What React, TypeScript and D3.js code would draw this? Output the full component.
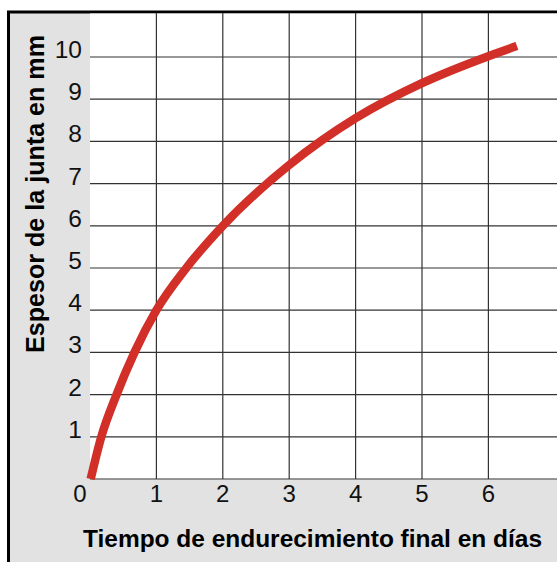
import React, { useEffect, useRef } from 'react'
import { scaleLinear, select, line, curveMonotoneX } from 'd3';

// values
const days = [0.01, 0.17, 0.4, 0.67, 1, 1.45, 2, 3, 4, 5, 6, 6.43];
const thickness = [0, 1, 2, 3, 4, 5, 6, 7.44, 8.55, 9.38, 10.02, 10.26];
const xTicks = [0, 1, 2, 3, 4, 5, 6];
const yTicks = [1, 2, 3, 4, 5, 6, 7, 8, 9, 10];
const xTitle = 'Tiempo de endurecimiento final en días';
const yTitle = 'Espesor de la junta en mm';

const App = () => {
    const chartRef = useRef<SVGSVGElement>(null);

    useEffect(() => {
        const width = 557;
        const height = 562;
        const plot = { left: 90, top: 13, bottom: 479 };

        const x = scaleLinear().domain([0, 7]).range([plot.left, plot.left + 7 * 66.4]);
        const y = scaleLinear().domain([0, 10]).range([plot.bottom, plot.bottom - 10 * 42.2]);

        const svg = select(chartRef.current);
        svg.selectAll('*').remove();
        svg.attr('width', width).attr('height', height);

        // gray frame, cut off at right and bottom
        svg.append('rect')
            .attr('x', 8.5).attr('y', 12)
            .attr('width', width + 20).attr('height', height + 20)
            .attr('fill', '#e2e2e2')
            .attr('stroke', '#000')
            .attr('stroke-width', 3);

        svg.append('rect')
            .attr('x', plot.left).attr('y', plot.top + 0.5)
            .attr('width', width - plot.left).attr('height', plot.bottom - plot.top)
            .attr('fill', '#fff');

        const grid = svg.append('g').attr('stroke', '#333').attr('stroke-width', 1.2);
        grid.selectAll('line.h')
            .data([0, ...yTicks])
            .enter()
            .append('line')
            .attr('x1', plot.left).attr('x2', width)
            .attr('y1', d => y(d)).attr('y2', d => y(d));
        grid.selectAll('line.v')
            .data(xTicks.slice(1))
            .enter()
            .append('line')
            .attr('x1', d => x(d)).attr('x2', d => x(d))
            .attr('y1', plot.top).attr('y2', plot.bottom);

        const font = '"Liberation Sans", Arial, Helvetica, sans-serif';

        svg.append('g')
            .selectAll('text')
            .data(yTicks)
            .enter()
            .append('text')
            .attr('x', 82)
            .attr('y', d => y(d) + 1)
            .attr('text-anchor', 'end')
            .style('font-family', font)
            .style('font-size', '24.5px')
            .attr('fill', '#111')
            .text(d => d);

        svg.append('g')
            .selectAll('text')
            .data(xTicks)
            .enter()
            .append('text')
            .attr('x', d => (d === 0 ? x(d) - 10 : x(d)))
            .attr('y', 502)
            .attr('text-anchor', 'middle')
            .style('font-family', font)
            .style('font-size', '24px')
            .attr('fill', '#111')
            .text(d => d);

        svg.append('text')
            .attr('x', 83)
            .attr('y', 547)
            .attr('textLength', 459)
            .attr('lengthAdjust', 'spacingAndGlyphs')
            .style('font-family', font)
            .style('font-size', '24.4px')
            .style('font-weight', 'bold')
            .attr('fill', '#000')
            .text(xTitle);

        svg.append('text')
            .attr('transform', 'translate(43.5, 353) rotate(-90)')
            .attr('textLength', 318)
            .attr('lengthAdjust', 'spacingAndGlyphs')
            .style('font-family', font)
            .style('font-size', '25px')
            .style('font-weight', 'bold')
            .attr('fill', '#000')
            .text(yTitle);

        const path = line<number>()
            .x(d => x(d))
            .y((_, i) => y(thickness[i]))
            .curve(curveMonotoneX);

        svg.append('path')
            .attr('d', path(days))
            .attr('fill', 'none')
            .attr('stroke', '#d12f28')
            .attr('stroke-width', 8.5);
    }, [chartRef]);

    return (
        <div style={{ position: 'fixed', left: 0, top: 0 }}>
            <svg ref={chartRef} style={{ display: 'block' }} />
        </div>
    )
}

export default App
